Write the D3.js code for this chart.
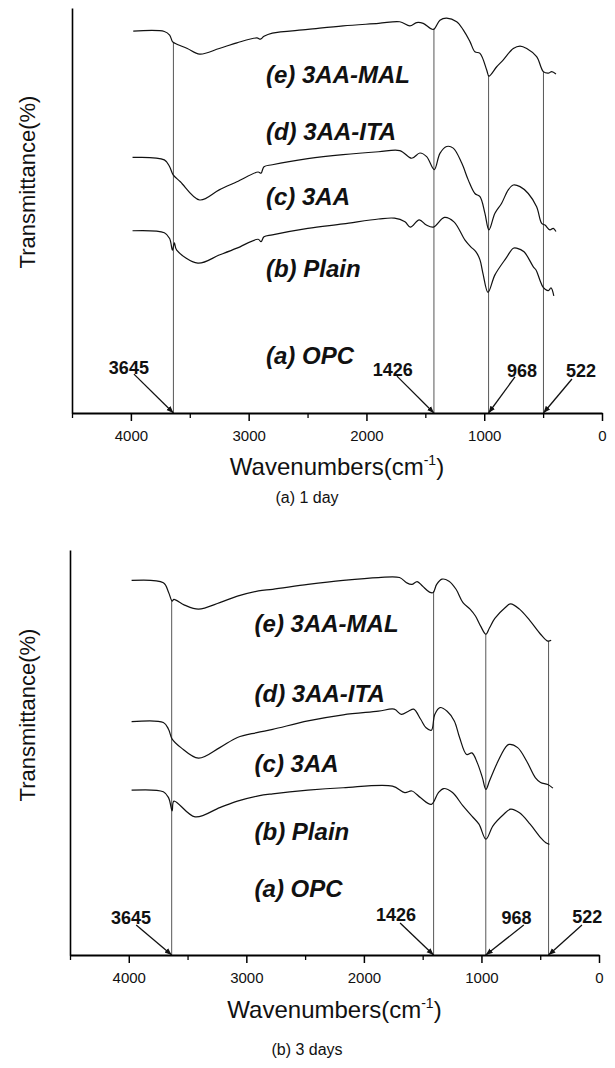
<!DOCTYPE html>
<html><head><meta charset="utf-8">
<script src="https://cdn.jsdelivr.net/npm/d3@7"></script>
<style>body{margin:0;background:#fff}svg{display:block}</style>
</head><body>
<svg id="chart" width="615" height="1068"></svg>
<script>
// ---------------- DATA ----------------
const seriesNames = ['(e) 3AA-MAL','(d) 3AA-ITA','(c) 3AA','(b) Plain','(a) OPC'];
const peakLabels = ['3645','1426','968','522'];
const xTickValues = [4000,3000,2000,1000,0];
const xMinorTicks = [4500,3500,2500,1500,500];

// 1 day – upper spectrum
const d1UpperWn = [3980,3716,3671,3647,3626,3521,3416,3250,3100,2930,2900,2870,2799,2498,2198,1897,1717,1631,1574,1518,1433,1376,1319,1234,1178,1121,1079,1036,979,960,894,838,753,696,639,555,498,456,427,391];
const d1UpperT  = [94.3,94.2,93.3,91.7,91.3,90.0,88.6,90.0,91.4,92.6,92.3,93.0,93.8,94.7,95.6,96.2,96.6,95.6,96.4,96.2,94.7,97.0,97.5,96.6,94.6,91.7,89.2,88.8,84.7,83.2,85.5,87.2,90.0,90.6,90.0,88.0,84.3,83.9,84.3,83.7];
// 1 day – middle spectrum
const d1MiddleWn = [3986,3716,3671,3641,3580,3416,3250,3100,2920,2895,2870,2799,2498,2198,1897,1717,1616,1546,1489,1424,1376,1319,1263,1191,1135,1079,1036,994,960,909,852,796,753,696,626,555,512,484,442,414,391];
const d1MiddleT  = [63.1,62.5,60.8,58.8,57.1,52.6,55.1,57.1,59.5,59.2,60.8,61.3,62.8,63.8,64.5,64.8,62.9,64.2,63.3,60.1,64.1,65.8,65.4,61.7,57.5,54.2,53.4,49.3,45.2,49.3,51.8,55.1,56.3,55.9,54.2,50.9,46.8,46.4,45.2,45.6,44.8];
// 1 day – lower spectrum
const d1LowerWn = [3986,3716,3671,3647,3631,3611,3431,3250,3100,2920,2895,2870,2799,2498,2198,1897,1762,1673,1627,1552,1491,1431,1338,1257,1163,1116,1070,1036,1011,968,909,813,753,725,662,583,560,527,499,456,433,409];
const d1LowerT  = [45.0,44.5,43.1,40.2,42.0,40.2,37.0,39.0,40.7,42.9,42.3,43.5,44.0,45.6,46.7,47.9,48.1,47.2,45.9,47.7,46.4,45.9,48.3,47.2,42.7,41.1,39.8,37.8,34.5,29.8,34.1,38.3,40.7,40.7,39.8,36.1,35.3,32.8,31.0,30.2,30.9,28.9];
// 1 day – peak marker lines (as drawn)
const d1MarkerWn = [3639,1427,963,497];

// 3 days – upper spectrum
const d3UpperWn = [3976,3706,3661,3631,3616,3526,3407,3226,3076,2897,2776,2476,2176,1876,1697,1636,1592,1547,1502,1442,1411,1381,1336,1276,1216,1157,1097,1051,1007,962,931,886,797,752,676,586,497,436,407];
const d3UpperT  = [92.5,91.9,89.5,87.4,87.8,86.4,85.4,87.0,88.6,89.9,90.3,91.5,92.5,93.2,93.2,91.9,91.5,92.2,91.1,89.6,89.5,91.5,92.8,92.3,90.3,87.0,85.4,83.7,81.2,79.2,80.8,83.1,85.8,86.7,85.4,82.5,79.2,77.5,77.7];
// 3 days – middle spectrum
const d3MiddleWn = [3976,3706,3661,3631,3556,3407,3226,3076,2911,2776,2476,2176,1876,1742,1681,1621,1576,1517,1471,1426,1397,1352,1292,1231,1186,1126,1081,1036,992,962,931,871,797,766,692,616,542,497,436,392];
const d3MiddleT  = [57.6,57.4,55.7,53.3,51.2,48.6,51.2,53.7,54.9,55.7,57.8,59.3,60.2,60.7,59.4,60.2,60.7,58.2,56.1,55.5,59.4,61.1,60.2,57.8,53.7,49.5,49.9,47.5,43.8,40.9,43.0,47.1,51.2,52.0,51.2,47.9,43.8,42.6,42.1,41.2];
// 3 days – lower spectrum
const d3LowerWn = [3976,3706,3661,3631,3616,3436,3226,3076,2897,2776,2476,2176,1757,1652,1592,1517,1426,1366,1321,1246,1157,1081,1021,962,902,812,752,676,586,497,452,422];
const d3LowerT  = [40.7,40.3,38.8,35.6,38.0,34.1,36.4,38.0,39.3,39.8,40.7,41.3,41.7,40.1,40.5,38.8,37.2,40.1,41.1,40.1,36.8,34.3,32.3,28.6,31.9,34.7,36.0,35.1,32.3,29.0,27.7,27.3];
// 3 days – peak marker lines (as drawn)
const d3MarkerWn = [3635,1407,963,429];

// ---------------- LAYOUT (positions / styles) ----------------
const panels = [
  { caption:'(a) 1 day', xRange:[72,602], yRange:[413,8],
    series:[[d1UpperWn,d1UpperT],[d1MiddleWn,d1MiddleT],[d1LowerWn,d1LowerT]],
    markers:d1MarkerWn,
    nameX:2853, nameY:[83.5,69.5,53.4,35.7,14.1],
    peakText:[[4017,11.1],[1777,10.6],[679,10.4],[178,10.4]],
    arrowFrom:[[3974,9.6],[1741,9.1],[739,8.9],[255,8.4]],
    titleDy:62, captionDy:90, yTitleY:182 },
  { caption:'(b) 3 days', xRange:[70,599], yRange:[955,550],
    series:[[d3UpperWn,d3UpperT],[d3MiddleWn,d3MiddleT],[d3LowerWn,d3LowerT]],
    markers:d3MarkerWn,
    nameX:2930, nameY:[81.9,64.6,47.3,30.4,16.5],
    peakText:[[3981,9.1],[1726,9.9],[701,9.1],[99,9.4]],
    arrowFrom:[[3937,7.4],[1692,7.9],[640,7.4],[145,7.4]],
    titleDy:63, captionDy:100, yTitleY:715 }
];

const svg = d3.select('#chart');
const FONT = "'Liberation Sans', Arial, Helvetica, sans-serif";

svg.append('defs').append('marker')
  .attr('id','arrow').attr('viewBox','0 0 10 10').attr('refX',10).attr('refY',5)
  .attr('markerWidth',7).attr('markerHeight',7).attr('markerUnits','userSpaceOnUse')
  .attr('orient','auto')
  .append('path').attr('d','M0,1 L10,5 L0,9 Z').attr('fill','#111');

panels.forEach(p => {
  const x = d3.scaleLinear().domain([4500,0]).range(p.xRange);
  const y = d3.scaleLinear().domain([0,100]).range(p.yRange);
  const g = svg.append('g');
  const axisY = p.yRange[0];

  // marker (peak) lines: from axis up to the upper spectrum
  const [uw, ut] = p.series[0];
  const interpUpper = wn => {
    for (let i=0;i<uw.length-1;i++){
      if (wn<=uw[i] && wn>=uw[i+1]){
        const f=(uw[i]-wn)/(uw[i]-uw[i+1]);
        return ut[i]+f*(ut[i+1]-ut[i]);
      }
    }
    return ut[0];
  };
  g.selectAll('line.mark').data(p.markers).enter().append('line')
    .attr('x1',d=>x(d)).attr('x2',d=>x(d))
    .attr('y1',y(0)).attr('y2',d=>y(interpUpper(d)))
    .attr('stroke','#444').attr('stroke-width',0.9);

  // spectra
  const line = d3.line().x(d=>x(d[0])).y(d=>y(d[1])).curve(d3.curveCatmullRom.alpha(0.5));
  p.series.forEach(([wn,t]) => {
    g.append('path').datum(wn.map((w,i)=>[w,t[i]]))
      .attr('d',line).attr('fill','none').attr('stroke','#111').attr('stroke-width',1.2)
      .attr('stroke-linejoin','round');
  });

  // x axis
  const ax = g.append('g').attr('transform',`translate(0,${axisY})`)
    .call(d3.axisBottom(x).tickValues(xTickValues).tickSize(8).tickSizeOuter(0).tickPadding(9)
      .tickFormat(d3.format('d')));
  ax.select('.domain').attr('stroke','#000').attr('stroke-width',1.8);
  ax.selectAll('.tick line').attr('stroke','#000').attr('stroke-width',1.5);
  ax.selectAll('.tick text').attr('font-family',FONT).attr('font-size',15).attr('fill','#111');
  const axm = g.append('g').attr('transform',`translate(0,${axisY})`)
    .call(d3.axisBottom(x).tickValues(xMinorTicks).tickSize(5).tickSizeOuter(0).tickFormat(''));
  axm.select('.domain').remove();
  axm.selectAll('.tick line').attr('stroke','#000').attr('stroke-width',1.3);

  // y axis (no ticks)
  const ay = g.append('g').attr('transform',`translate(${p.xRange[0]},0)`)
    .call(d3.axisLeft(y).tickValues([]).tickSizeOuter(0));
  ay.select('.domain').attr('stroke','#000').attr('stroke-width',1.6);

  // axis titles
  const xt = g.append('text').attr('x',(p.xRange[0]+p.xRange[1])/2).attr('y',axisY+p.titleDy)
    .attr('text-anchor','middle').attr('font-family',FONT).attr('font-size',24).attr('fill','#111');
  xt.append('tspan').text('Wavenumbers(cm');
  xt.append('tspan').attr('font-size',14).attr('dy',-10).text('-1');
  xt.append('tspan').attr('dy',10).text(')');

  g.append('text').attr('transform',`translate(27,${p.yTitleY}) rotate(-90)`)
    .attr('text-anchor','middle').attr('dominant-baseline','central')
    .attr('font-family',FONT).attr('font-size',22).attr('fill','#111').text('Transmittance(%)');

  g.append('text').attr('x',307).attr('y',axisY+p.captionDy).attr('text-anchor','middle')
    .attr('font-family',FONT).attr('font-size',16).attr('fill','#111').text(p.caption);

  // series names
  g.selectAll('text.name').data(seriesNames).enter().append('text')
    .attr('x',x(p.nameX)).attr('y',(d,i)=>y(p.nameY[i]))
    .attr('dominant-baseline','central')
    .attr('font-family',FONT).attr('font-size',24).attr('font-weight','bold').attr('font-style','italic')
    .attr('fill','#111').text(d=>d);

  // peak labels + arrows
  g.selectAll('text.peak').data(peakLabels).enter().append('text')
    .attr('x',(d,i)=>x(p.peakText[i][0])).attr('y',(d,i)=>y(p.peakText[i][1]))
    .attr('text-anchor','middle').attr('dominant-baseline','central')
    .attr('font-family',FONT).attr('font-size',18).attr('font-weight','bold')
    .attr('fill','#111').text(d=>d);
  g.selectAll('line.arrow').data(p.markers).enter().append('line')
    .attr('x1',(d,i)=>x(p.arrowFrom[i][0])).attr('y1',(d,i)=>y(p.arrowFrom[i][1]))
    .attr('x2',d=>x(d)).attr('y2',y(0))
    .attr('stroke','#111').attr('stroke-width',1.3).attr('marker-end','url(#arrow)');
});
</script>
</body></html>
